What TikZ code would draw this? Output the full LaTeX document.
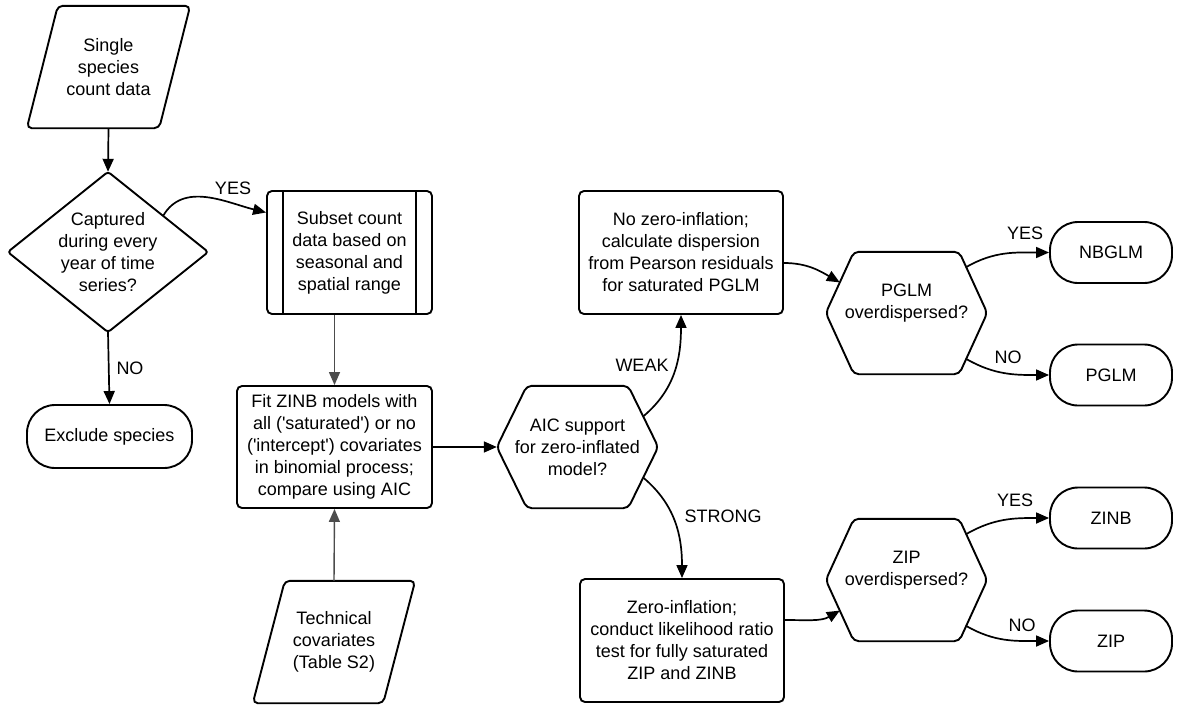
\documentclass[tikz,border=0pt]{standalone}
\usepackage{fontspec}
\setmainfont{Liberation Sans}
\usetikzlibrary{arrows.meta,calc}
\newcommand\myq{\textquotesingle}
\begin{document}
\begin{tikzpicture}[x=1pt,y=1pt,
  font=\fontsize{18}{22}\selectfont,
  box/.style={draw, line width=1.9pt, rounded corners=5pt, align=center, inner sep=0pt},
  frame/.style={rectangle, inner sep=0pt, align=center},
  outline/.style={draw, line width=1.9pt, rounded corners=5pt, line join=round},
  term/.style={draw, line width=1.9pt, rounded corners=28pt, align=center, inner sep=0pt, minimum height=61pt, minimum width=122pt},
  conn/.style={line width=1.7pt, -{Triangle[length=13pt,width=11pt]}},
  gconn/.style={conn, draw=black!70, line width=1.4pt},
  lab/.style={inner sep=0pt}
]
\useasboundingbox (0,0) rectangle (1180,-705);

% source parallelogram
\node[frame, minimum width=163pt, minimum height=122pt] (src) at (108.5,-67) {Single\\species\\count data};
\draw[outline] ([xshift=31pt]src.north west) -- (src.north east) -- ([xshift=-31pt]src.south east) -- (src.south west) -- cycle;

% decision diamond
\node[frame, minimum width=200pt, minimum height=160pt] (cap) at (108,-252) {Captured\\during every\\year of time\\series?};
\draw[outline, rounded corners=3pt] (cap.north) -- (cap.east) -- (cap.south) -- (cap.west) -- cycle;

% exclude terminal
\node[term, minimum width=165pt, minimum height=63pt] (exc) at (109.5,-436.5) {Exclude species};

% subset (predefined process)
\node[box, minimum width=165pt, minimum height=123pt] (sub) at (349.5,-252.5) {Subset count\\data based on\\seasonal and\\spatial range};
\draw[line width=1.6pt] ([xshift=17pt]sub.north west) -- ([xshift=17pt]sub.south west);
\draw[line width=1.6pt] ([xshift=-17pt]sub.north east) -- ([xshift=-17pt]sub.south east);

% fit box
\node[box, minimum width=195pt, minimum height=122pt] (fit) at (334.5,-447) {Fit ZINB models with\\all (\myq saturated\myq) or no\\(\myq intercept\myq) covariates\\in binomial process;\\compare using AIC};

% technical covariates parallelogram
\node[frame, minimum width=162pt, minimum height=122pt] (tec) at (334,-642) {Technical\\covariates\\(Table S2)};
\draw[outline] ([xshift=32pt]tec.north west) -- (tec.north east) -- ([xshift=-32pt]tec.south east) -- (tec.south west) -- cycle;

% AIC hexagon
\node[frame, minimum width=161pt, minimum height=122pt] (aic) at (577.5,-447) {AIC support\\for zero-inflated\\model?};
\draw[outline] (aic.west) -- ([xshift=30pt]aic.north west) -- ([xshift=-30pt]aic.north east) -- (aic.east) -- ([xshift=-30pt]aic.south east) -- ([xshift=30pt]aic.south west) -- cycle;

% process boxes
\node[box, minimum width=204pt, minimum height=123pt] (noz) at (681,-252.5) {No zero-inflation;\\calculate dispersion\\from Pearson residuals\\for saturated PGLM};
\node[box, minimum width=204pt, minimum height=123pt] (zer) at (682,-640.5) {Zero-inflation;\\conduct likelihood ratio\\test for fully saturated\\ZIP and ZINB};

% PGLM hexagon
\node[frame, minimum width=161pt, minimum height=122pt] (pgh) at (906.5,-313) {};
\node[frame] (pght) at ([yshift=10pt]pgh.center) {PGLM\\overdispersed?};
\draw[outline] (pgh.west) -- ([xshift=28pt]pgh.north west) -- ([xshift=-28pt]pgh.north east) -- (pgh.east) -- ([xshift=-28pt]pgh.south east) -- ([xshift=28pt]pgh.south west) -- cycle;

% ZIP hexagon
\node[frame, minimum width=161pt, minimum height=122pt] (zih) at (906.5,-580) {};
\node[frame] (ziht) at ([yshift=10pt]zih.center) {ZIP\\overdispersed?};
\draw[outline] (zih.west) -- ([xshift=28pt]zih.north west) -- ([xshift=-28pt]zih.north east) -- (zih.east) -- ([xshift=-28pt]zih.south east) -- ([xshift=28pt]zih.south west) -- cycle;

% terminals
\node[term] (nbg) at (1111,-252.5) {NBGLM};
\node[term] (pgl) at (1111,-375) {PGLM};
\node[term] (zinb) at (1111,-518) {ZINB};
\node[term] (zip) at (1111,-641) {ZIP};

% connectors
\draw[conn] (src.south) -- (cap.north);
\draw[conn] ($(cap.north)!0.55!(cap.east)$) to[out=60,in=166] ([yshift=40pt]sub.west);
\draw[conn] (cap.south) -- (exc.north);
\draw[gconn] (sub.south -| fit.north) -- (fit.north);
\draw[gconn] (tec.north) -- (fit.south);
\draw[conn] (fit.east) -- (aic.west);
\draw[conn] ($([xshift=-30pt]aic.north east)!0.5!(aic.east)$) to[out=40,in=-90] (noz.south);
\draw[conn] ($([xshift=-30pt]aic.south east)!0.5!(aic.east)$) to[out=-40,in=90] (zer.north);
\draw[conn] ([yshift=-10.5pt]noz.east) to[out=0,in=150] ($(pgh.west)!0.5!([xshift=28pt]pgh.north west)$);
\draw[conn] ([yshift=20.5pt]zer.east) to[out=0,in=210] ($(zih.west)!0.5!([xshift=28pt]zih.south west)$);
\draw[conn] ($([xshift=-28pt]pgh.north east)!0.25!(pgh.east)$) to[out=30,in=180] (nbg.west);
\draw[conn] ($([xshift=-28pt]pgh.south east)!0.25!(pgh.east)$) to[out=-30,in=180] (pgl.west);
\draw[conn] ($([xshift=-28pt]zih.north east)!0.25!(zih.east)$) to[out=30,in=180] (zinb.west);
\draw[conn] ($([xshift=-28pt]zih.south east)!0.25!(zih.east)$) to[out=-30,in=180] (zip.west);

% labels
\node[lab] (l1) at (233,-188) {YES};
\node[lab] (l2) at (130,-368) {NO};
\node[lab] (l3) at (642,-365) {WEAK};
\node[lab] (l4) at (723,-516) {STRONG};
\node[lab] (l5) at (1025,-233) {YES};
\node[lab] (l6) at (1008,-357) {NO};
\node[lab] (l7) at (1015,-500) {YES};
\node[lab] (l8) at (1022,-625) {NO};
\end{tikzpicture}
\end{document}
